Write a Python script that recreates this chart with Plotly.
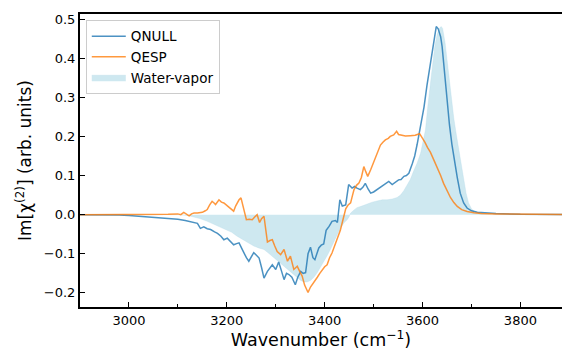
import plotly.graph_objects as go

# ---- spectra: wavenumber (cm^-1) and Im[chi(2)] (arb. units) ----
wn_qnull = [2900, 2950, 2980, 3000, 3020, 3040, 3060, 3080, 3100, 3115, 3128, 3140, 3146, 3153,
            3160, 3167, 3175, 3181, 3188, 3194, 3201, 3208, 3214, 3220, 3225, 3230, 3235, 3240,
            3245, 3250, 3255, 3260, 3266, 3271, 3276, 3283, 3288, 3293, 3300, 3306, 3312, 3317,
            3322, 3327, 3333, 3340, 3345, 3351, 3356, 3361, 3366, 3371, 3376, 3380, 3388, 3393,
            3398, 3403, 3409, 3415, 3422, 3426, 3431, 3436, 3443, 3449, 3456, 3461, 3466, 3473,
            3478, 3483, 3489, 3494, 3500, 3507, 3514, 3521, 3526, 3531, 3538, 3544, 3551, 3556,
            3562, 3567, 3572, 3579, 3584, 3589, 3596, 3603, 3609, 3615, 3620, 3625, 3628, 3632,
            3637, 3640, 3645, 3650, 3655, 3660, 3665, 3671, 3677, 3684, 3691, 3700, 3712, 3730,
            3750, 3800, 3850, 3900]
im_qnull = [0.000, 0.000, -0.001, -0.002, -0.004, -0.005, -0.007, -0.009, -0.012, -0.015, -0.018,
            -0.022, -0.035, -0.031, -0.036, -0.038, -0.044, -0.048, -0.055, -0.064, -0.060, -0.068,
            -0.077, -0.074, -0.072, -0.085, -0.098, -0.110, -0.119, -0.108, -0.097, -0.103, -0.111,
            -0.135, -0.162, -0.145, -0.135, -0.128, -0.140, -0.121, -0.145, -0.166, -0.150, -0.153,
            -0.160, -0.179, -0.160, -0.145, -0.150, -0.148, -0.100, -0.083, -0.110, -0.115, -0.085,
            -0.078, -0.075, -0.040, -0.030, -0.017, -0.015, -0.020, 0.038, 0.022, 0.025, 0.077,
            0.068, 0.072, 0.068, 0.064, 0.070, 0.080, 0.065, 0.055, 0.058, 0.064, 0.072, 0.077,
            0.082, 0.085, 0.077, 0.082, 0.089, 0.090, 0.098, 0.100, 0.106, 0.130, 0.150, 0.180,
            0.225, 0.275, 0.330, 0.380, 0.425, 0.465, 0.481, 0.475, 0.455, 0.430, 0.360, 0.290,
            0.230, 0.180, 0.135, 0.095, 0.055, 0.030, 0.017, 0.010, 0.006, 0.004, 0.003, 0.001,
            0.000, 0.000]

wn_qesp = [2900, 2950, 3000, 3050, 3080, 3100, 3106, 3112, 3118, 3123, 3128, 3133, 3140, 3150,
           3156, 3160, 3165, 3170, 3174, 3177, 3184, 3189, 3194, 3199, 3204, 3209, 3214, 3218,
           3221, 3225, 3229, 3235, 3240, 3246, 3252, 3257, 3262, 3267, 3271, 3276, 3280, 3283,
           3288, 3293, 3298, 3303, 3310, 3317, 3324, 3330, 3337, 3344, 3349, 3354, 3359, 3366,
           3371, 3378, 3385, 3390, 3395, 3400, 3405, 3410, 3415, 3420, 3426, 3432, 3437, 3443,
           3448, 3453, 3457, 3460, 3465, 3470, 3475, 3480, 3484, 3488, 3494, 3500, 3504, 3509,
           3514, 3519, 3524, 3530, 3534, 3541, 3547, 3551, 3556, 3565, 3575, 3585, 3594, 3600,
           3605, 3610, 3616, 3623, 3630, 3637, 3643, 3650, 3657, 3664, 3671, 3680, 3691, 3705,
           3720, 3750, 3800, 3850, 3900]
im_qesp = [0.000, 0.000, 0.001, 0.001, 0.001, 0.002, 0.000, 0.006, 0.000, -0.003, 0.002, 0.004,
           0.004, 0.006, 0.010, 0.013, 0.025, 0.034, 0.030, 0.026, 0.038, 0.032, 0.030, 0.025,
           0.021, 0.015, 0.009, 0.022, 0.030, 0.038, 0.043, 0.015, -0.013, -0.012, -0.013, -0.006,
           0.000, -0.020, -0.010, -0.004, -0.040, -0.070, -0.066, -0.064, -0.080, -0.094, -0.102,
           -0.089, -0.119, -0.106, -0.140, -0.132, -0.145, -0.157, -0.180, -0.199, -0.185, -0.174,
           -0.160, -0.150, -0.140, -0.133, -0.128, -0.110, -0.098, -0.080, -0.064, -0.040, -0.015,
           0.015, 0.025, 0.030, 0.050, 0.064, 0.075, 0.081, 0.095, 0.123, 0.110, 0.098, 0.115,
           0.135, 0.145, 0.162, 0.178, 0.185, 0.191, 0.195, 0.200, 0.204, 0.213, 0.205, 0.203,
           0.201, 0.202, 0.203, 0.207, 0.196, 0.185, 0.172, 0.160, 0.140, 0.122, 0.100, 0.080,
           0.060, 0.044, 0.031, 0.021, 0.013, 0.008, 0.005, 0.003, 0.002, 0.001, 0.000, 0.000]

wn_water = [2900, 3100, 3120, 3130, 3145, 3160, 3175, 3190, 3200, 3210, 3221, 3235, 3245, 3255,
            3265, 3276, 3285, 3296, 3310, 3324, 3337, 3345, 3351, 3358, 3364, 3371, 3378, 3385,
            3391, 3398, 3405, 3412, 3419, 3426, 3432, 3440, 3446, 3450, 3453, 3460, 3466, 3476,
            3487, 3497, 3507, 3518, 3528, 3538, 3548, 3555, 3562, 3569, 3575, 3582, 3589, 3596,
            3601, 3606, 3611, 3616, 3620, 3625, 3630, 3635, 3638, 3641, 3646, 3651, 3656, 3660,
            3664, 3669, 3674, 3679, 3684, 3689, 3694, 3700, 3708, 3720, 3740, 3900]
im_water = [0.000, 0.000, -0.002, -0.005, -0.010, -0.017, -0.025, -0.033, -0.038, -0.045, -0.055,
            -0.066, -0.072, -0.080, -0.085, -0.089, -0.098, -0.110, -0.123, -0.140, -0.155, -0.162,
            -0.168, -0.172, -0.172, -0.168, -0.160, -0.148, -0.135, -0.123, -0.105, -0.088, -0.070,
            -0.050, -0.034, -0.020, -0.013, -0.005, 0.004, 0.012, 0.018, 0.022, 0.028, 0.032,
            0.035, 0.038, 0.038, 0.040, 0.044, 0.050, 0.062, 0.078, 0.090, 0.112, 0.132, 0.157,
            0.185, 0.217, 0.280, 0.335, 0.390, 0.430, 0.462, 0.477, 0.481, 0.476, 0.440, 0.385,
            0.330, 0.290, 0.245, 0.205, 0.165, 0.125, 0.089, 0.055, 0.030, 0.015, 0.006, 0.002,
            0.000, 0.000]

x_ticks = [3000, 3200, 3400, 3600, 3800]
y_ticks = [-0.2, -0.1, 0.0, 0.1, 0.2, 0.3, 0.4, 0.5]
y_tick_text = ["\u22120.2", "\u22120.1", "0.0", "0.1", "0.2", "0.3", "0.4", "0.5"]

FONT = "DejaVu Sans"

fig = go.Figure()

fig.add_trace(go.Scatter(
    x=wn_water, y=im_water, name="Water-vapor", mode="lines",
    fill="tozeroy", fillcolor="rgba(173,216,230,0.6)",
    line=dict(color="rgba(173,216,230,0.6)", width=0.5),
    legendrank=3,
))
fig.add_trace(go.Scatter(
    x=wn_qnull, y=im_qnull, name="QNULL", mode="lines",
    line=dict(color="#1f77b4", width=1.5), opacity=0.8, legendrank=1,
))
fig.add_trace(go.Scatter(
    x=wn_qesp, y=im_qesp, name="QESP", mode="lines",
    line=dict(color="#ff7f0e", width=1.5), opacity=0.8, legendrank=2,
))

fig.update_layout(
    width=562, height=352,
    margin=dict(l=80, r=0, t=14, b=45),
    paper_bgcolor="white", plot_bgcolor="white",
    font=dict(family=FONT, size=13, color="black"),
    showlegend=True,
    legend=dict(
        x=0.012, y=0.98, xanchor="left", yanchor="top",
        bgcolor="rgba(255,255,255,0.8)", bordercolor="#cccccc", borderwidth=1,
        itemwidth=34,
        font=dict(family=FONT, size=13.5, color="black"),
    ),
    xaxis=dict(
        range=[2900, 3885], tickvals=x_ticks,
        ticks="inside", ticklen=5, tickwidth=1.3, tickcolor="black",
        minor=dict(dtick=100, tick0=2900, ticks="inside", ticklen=3, tickwidth=1.1, tickcolor="black"),
        showline=True, linewidth=2, linecolor="black", mirror=True,
        showgrid=False, zeroline=False,
        tickfont=dict(family=FONT, size=13, color="black"),
        title=dict(text="Wavenumber (cm<sup>\u22121</sup>)", font=dict(family=FONT, size=17.5), standoff=7),
    ),
    yaxis=dict(
        range=[-0.236, 0.513], tickvals=y_ticks, ticktext=y_tick_text,
        ticks="inside", ticklen=5, tickwidth=1.3, tickcolor="black",
        showline=True, linewidth=2, linecolor="black", mirror=False,
        showgrid=False, zeroline=False,
        tickfont=dict(family=FONT, size=13, color="black"),
        title=dict(text="Im[\u03c7<sup>(2)</sup>] (arb. units)", font=dict(family=FONT, size=17), standoff=8),
    ),
)

fig.write_html("out.html")
